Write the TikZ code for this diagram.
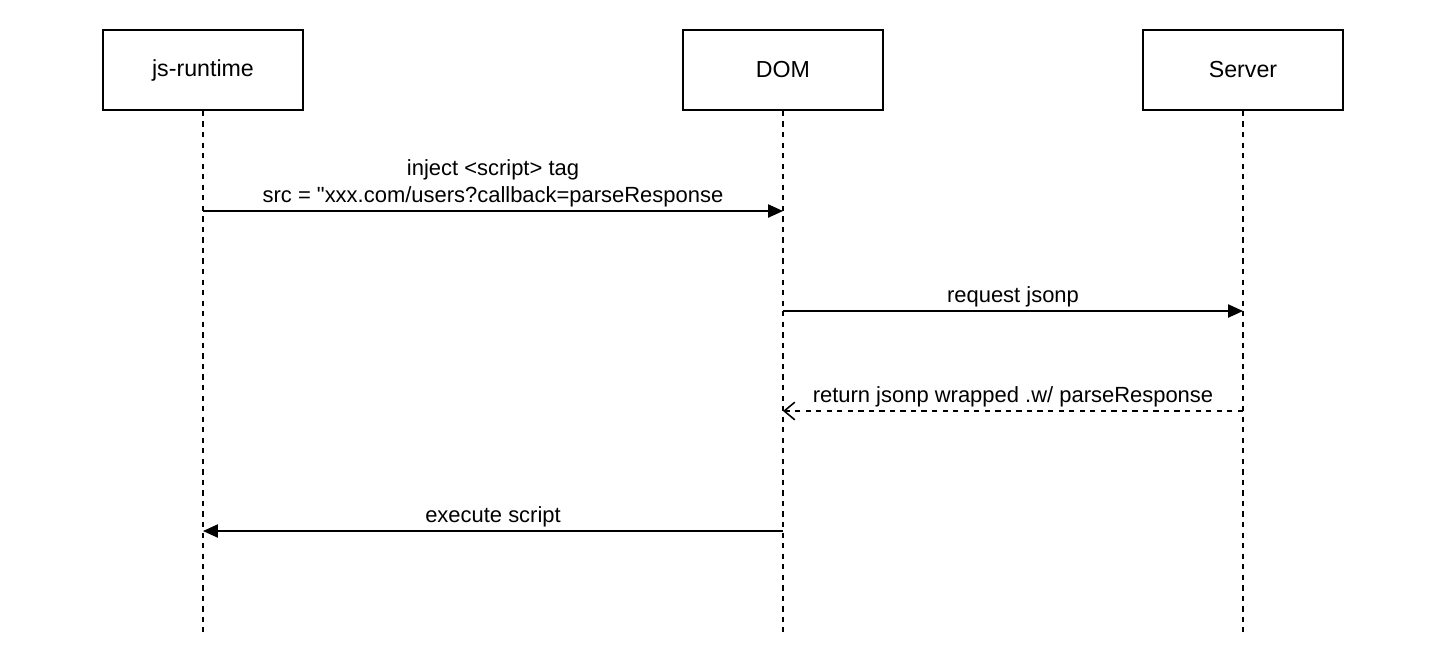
\documentclass[tikz,border=0pt]{standalone}
\usepackage{fontspec}
\setmainfont{Liberation Sans}[Ligatures=TeXOff]
\usetikzlibrary{arrows.meta,positioning}

\begin{document}
\begin{tikzpicture}[
    x=0.02cm, y=-0.02cm,
    actor/.style={draw, line width=1pt, minimum width=4cm, minimum height=1.6cm, align=center, font=\fontsize{13.2}{16}\selectfont},
    life/.style={line width=0.9pt, dash pattern=on 3pt off 3pt},
    msg/.style={-{Triangle[length=8.5pt, width=7.5pt]}, line width=0.9pt},
    reply/.style={-{Straight Barb[length=6pt, width=10pt]}, line width=0.9pt, dash pattern=on 3pt off 3pt},
    lbl/.style={font=\fontsize{12.5}{15}\selectfont, align=center, inner sep=2pt}
]
\useasboundingbox (0,0) rectangle (1444,664);

% actors
\node[actor] (js) at (203,70) {js-runtime};
\node[actor] (dom) at (783,70) {DOM};
\node[actor] (srv) at (1243,70) {Server};

% lifelines
\coordinate (jsEnd) at (203,632);
\coordinate (domEnd) at (783,632);
\coordinate (srvEnd) at (1243,632);
\draw[life] (js.south) -- (jsEnd);
\draw[life] (dom.south) -- (domEnd);
\draw[life] (srv.south) -- (srvEnd);

% message anchors
\coordinate (m1a) at (203,211); \coordinate (m1b) at (783,211);
\coordinate (m2a) at (783,311); \coordinate (m2b) at (1243,311);
\coordinate (m3a) at (1243,411); \coordinate (m3b) at (783,411);
\coordinate (m4a) at (783,531); \coordinate (m4b) at (203,531);

\draw[msg] (m1a) -- node[lbl, above] {inject <script> tag\\src = "xxx.com/users?callback=parseResponse} (m1b);
\draw[msg] (m2a) -- node[lbl, above] {request jsonp} (m2b);
\draw[reply] (m3a) -- node[lbl, above] {return jsonp wrapped .w/ parseResponse} (m3b);
\draw[msg] (m4a) -- node[lbl, above] {execute script} (m4b);
\end{tikzpicture}
\end{document}
